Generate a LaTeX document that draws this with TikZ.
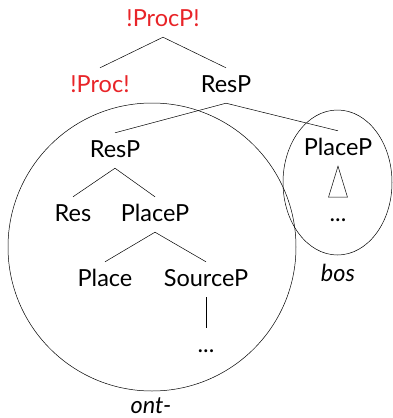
\documentclass[tikz,border=0pt]{standalone}
\usepackage{fontspec}
\setmainfont{Lato}
\definecolor{treered}{RGB}{232,36,40}
\begin{document}
\begin{tikzpicture}[x=1pt,y=-1pt,
  lab/.style={inner sep=0pt,text height=24pt,text depth=11pt,anchor=base,font=\fontsize{23.5}{26}\selectfont},
  red/.style={text=treered},
  edge/.style={draw=black,line width=0.5pt}]
\useasboundingbox (0,0) rectangle (393,418);
\node[lab,red] (procp) at (163,26) {!ProcP!};
\node[lab,red] (proc) at (100,92) {!Proc!};
\node[lab] (resp1) at (226,92) {ResP};
\node[lab] (resp2) at (115,157) {ResP};
\node[lab] (placepR) at (338,155) {PlaceP};
\node[lab] (res) at (73,221) {Res};
\node[lab] (placep) at (155,221) {PlaceP};
\node[lab] (place) at (105,286) {Place};
\node[lab] (sourcep) at (206,286) {SourceP};
\node[lab] (dots1) at (206,352) {...};
\node[lab] (dotsR) at (338,221) {...};
\node[lab,font=\fontsize{23.5}{26}\selectfont\itshape] (bos) at (338,281) {bos};
\node[lab,font=\fontsize{23.5}{26}\selectfont\itshape] (ont) at (151,413) {ont-};
\draw[edge] (procp.south) -- (proc.north);
\draw[edge] (procp.south) -- (resp1.north);
\draw[edge] (resp1.south) -- (resp2.north);
\draw[edge] (resp1.south) -- (placepR.north);
\draw[edge] (resp2.south) -- (res.north);
\draw[edge] (resp2.south) -- (placep.north);
\draw[edge] (placep.south) -- (place.north);
\draw[edge] (placep.south) -- (sourcep.north);
\draw[edge] (sourcep.south) -- (dots1.north);
\draw[edge] (placepR.south) -- ++(9.5,31) -- ++(-19,0) -- cycle;
\draw[edge] (152,247) circle[radius=144];
\draw[edge] (337.5,182.5) ellipse[x radius=54.5,y radius=72.5];
\end{tikzpicture}
\end{document}
